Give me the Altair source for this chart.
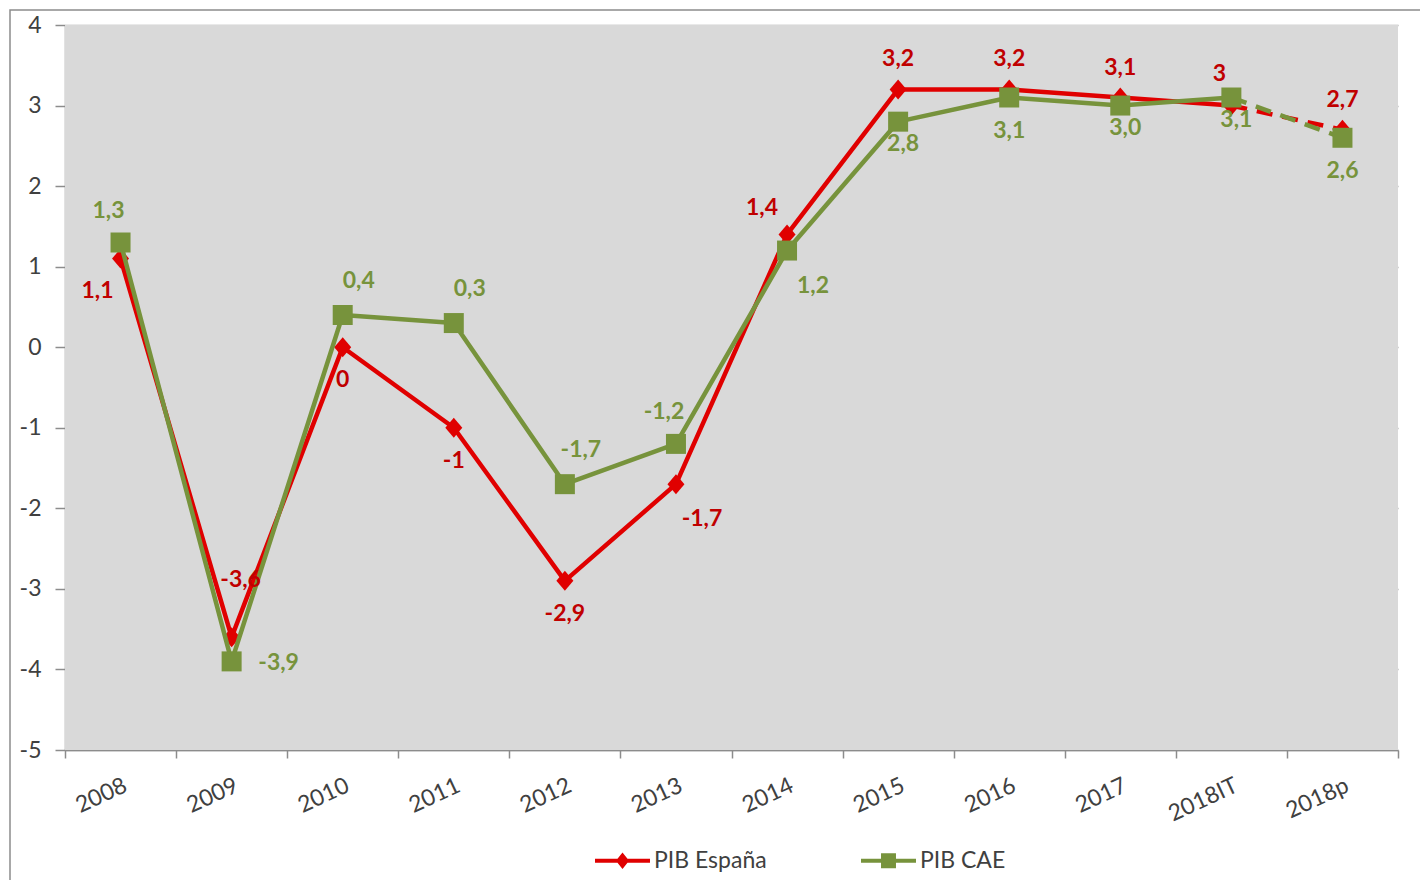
import altair as alt
import pandas as pd

# ---------------- data ----------------
categories = ["2008", "2009", "2010", "2011", "2012", "2013", "2014",
              "2015", "2016", "2017", "2018IT", "2018p"]
pib_espana = [1.1, -3.6, 0, -1, -2.9, -1.7, 1.4, 3.2, 3.2, 3.1, 3, 2.7]
pib_cae = [1.3, -3.9, 0.4, 0.3, -1.7, -1.2, 1.2, 2.8, 3.1, 3.0, 3.1, 2.6]
series_names = ["PIB España", "PIB CAE"]
y_ticks = [-5, -4, -3, -2, -1, 0, 1, 2, 3, 4]
# data-label placement (as chosen in the original chart)
espana_label_pos = ["left-below", "high", "below", "below", "below", "right-below",
                    "left-above", "above", "above", "above", "above-left", "above"]
cae_label_pos = ["above-left", "right", "above-right", "above-right", "above-right",
                 "above-left", "right-below", "below-near", "below", "below-near",
                 "below-near", "below"]

# ---------------- styles ----------------
RED_LINE = "#E00000"
RED_TEXT = "#C00000"
GREEN_LINE = "#77933C"
GREEN_TEXT = "#77933C"
PLOT_BG = "#D9D9D9"
FONT = "Lato"
LABEL_OFFSETS = {
    "above": (0, -30), "below": (0, 33), "below-near": (5, 22),
    "left-below": (-23, 32), "right-below": (26, 35), "left-above": (-25, -26),
    "above-left": (-12, -32), "above-right": (16, -34), "right": (47, 2),
    "high": (9, -57),
}

def fmt_general(v):
    return f"{v:g}".replace(".", ",")

def fmt_one(v):
    return f"{v:.1f}".replace(".", ",")

rows = []
for i, c in enumerate(categories):
    rows.append(dict(series=series_names[0], cat=c, idx=i, value=pib_espana[i],
                     label=fmt_general(pib_espana[i]), pos=espana_label_pos[i]))
    rows.append(dict(series=series_names[1], cat=c, idx=i, value=pib_cae[i],
                     label=fmt_one(pib_cae[i]), pos=cae_label_pos[i]))
df = pd.DataFrame(rows)
last_real = categories.index("2018IT")

x_enc = alt.X(
    "cat:N", sort=categories,
    scale=alt.Scale(type="band", domain=categories, paddingInner=0, paddingOuter=0),
    axis=alt.Axis(title=None, labelAngle=-25, labelAlign="right", labelBaseline="top",
                  labelFont=FONT, labelFontSize=23, labelColor="#404040",
                  labelPadding=16, tickBand="extent", tickSize=8, tickColor="#8c8c8c",
                  tickWidth=1.5, domainColor="#8c8c8c", domainWidth=1.5, grid=False,
                  labelOverlap=False),
)
y_enc = alt.Y(
    "value:Q",
    scale=alt.Scale(domain=[-5, 4], nice=False, zero=False),
    axis=alt.Axis(title=None, values=y_ticks, labelExpr="datum.value + ''",
                  labelFont=FONT, labelFontSize=23, labelColor="#404040",
                  labelPadding=14, tickSize=10, tickColor="#8c8c8c", tickWidth=1.5,
                  domainColor="#8c8c8c", domainWidth=1.5, grid=True,
                  gridColor="#a6a6a6", gridWidth=1.5),
)

base = alt.Chart(df).encode(x=x_enc, y=y_enc)

def series_layers(name, color, shape, size):
    s = base.transform_filter(alt.datum.series == name)
    solid = s.transform_filter(alt.datum.idx <= last_real).mark_line(
        color=color, strokeWidth=4.5, strokeJoin="round")
    dashed = s.transform_filter(alt.datum.idx >= last_real).mark_line(
        color=color, strokeWidth=4.5, strokeDash=[16, 10])
    pts = s.mark_point(filled=True, shape=shape, size=size, color=color, opacity=1)
    return [solid, dashed, pts]

def label_layers(name, color, positions):
    out = []
    for p in sorted(set(positions)):
        dx, dy = LABEL_OFFSETS[p]
        out.append(
            base.transform_filter((alt.datum.series == name) & (alt.datum.pos == p))
            .mark_text(dx=dx, dy=dy, font=FONT, fontSize=23, fontWeight="bold",
                       color=color, baseline="middle", align="center")
            .encode(text="label:N")
        )
    return out

DIAMOND = "M-0.85,0L0,-1L0.85,0L0,1Z"

# plot-area background (decoration)
plot_bg = alt.Chart(alt.Data(values=[{}])).mark_rect(
    fill=PLOT_BG, strokeWidth=0
).encode(x=alt.value(0), x2=alt.value("width"), y=alt.value(0), y2=alt.value("height"))

# outer chart frame (decoration)
border = alt.Chart(alt.Data(values=[{}])).mark_rect(
    fillOpacity=0, stroke="#8c8c8c", strokeWidth=1.5
).encode(x=alt.value(-55), x2=alt.value(1500), y=alt.value(-15), y2=alt.value(950))

LEG_ESP = "M-2.5,-0.18H2.5V0.18H-2.5Z M-0.6,0L0,-0.75L0.6,0L0,0.75Z"
LEG_CAE = "M-2.5,-0.18H2.5V0.18H-2.5Z M-0.68,-0.68H0.68V0.68H-0.68Z"
leg_props = dict(orient="none", legendX=546, legendY=824, direction="horizontal",
                 title=None, symbolSize=484, symbolStrokeWidth=0, labelFont=FONT,
                 labelFontSize=23, labelColor="#404040", labelOffset=20,
                 columnPadding=94, padding=0)
legend_layer = alt.Chart(df).transform_filter("false").mark_point(
    filled=True, opacity=1
).encode(
    color=alt.Color("series:N", scale=alt.Scale(domain=series_names,
                                                range=[RED_LINE, GREEN_LINE]),
                    legend=alt.Legend(**leg_props)),
    shape=alt.Shape("series:N", scale=alt.Scale(domain=series_names,
                                                range=[LEG_ESP, LEG_CAE]),
                    legend=alt.Legend(**leg_props)),
)

layers = [plot_bg, border]
layers += series_layers(series_names[0], RED_LINE, DIAMOND, 400)
layers += series_layers(series_names[1], GREEN_LINE, "square", 400)
layers += label_layers(series_names[0], RED_TEXT, espana_label_pos)
layers += label_layers(series_names[1], GREEN_TEXT, cae_label_pos)
layers.append(legend_layer)

chart = alt.layer(*layers).properties(
    width=1333, height=725,
    autosize=alt.AutoSizeParams(type="none"),
    padding={"left": 57, "top": 17, "right": 22, "bottom": 130},
    background="white",
).configure_view(fill=PLOT_BG, strokeWidth=0)

chart.save("out.html", embed_options={"renderer": "svg", "actions": False})
